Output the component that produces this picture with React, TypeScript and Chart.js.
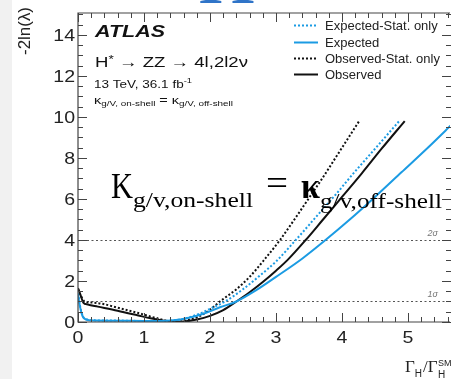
import { useEffect, useRef } from "react";
import { Chart, registerables } from "chart.js";
Chart.register(...registerables);

const BLUE = "#1b9be3";
const BLACK = "#111111";

// Expected-Stat. only (blue dotted)
const expStatX = [0, 0.03, 0.07, 0.12, 0.25, 0.6, 1.0, 1.25, 1.45, 1.65, 1.85, 2.05, 2.23, 2.5, 2.75, 3.0, 3.3, 3.6, 3.9, 4.2, 4.5, 4.88];
const expStatY = [1.4, 0.8, 0.3, 0.14, 0.08, 0.07, 0.05, 0.05, 0.08, 0.2, 0.42, 0.72, 1.0, 1.6, 2.25, 2.95, 4.0, 5.1, 6.2, 7.35, 8.45, 9.85];
// Expected (blue solid)
const expX = [0, 0.03, 0.07, 0.12, 0.25, 0.6, 1.0, 1.25, 1.45, 1.65, 1.9, 2.15, 2.4, 2.7, 3.0, 3.4, 3.75, 4.1, 4.5, 4.9, 5.3, 5.7];
const expY = [1.35, 0.75, 0.28, 0.12, 0.07, 0.06, 0.05, 0.05, 0.08, 0.18, 0.4, 0.72, 1.0, 1.55, 2.2, 3.1, 4.0, 4.95, 6.1, 7.3, 8.5, 9.75];
// Observed-Stat. only (black dotted)
const obsStatX = [0, 0.04, 0.1, 0.2, 0.35, 0.6, 0.9, 1.15, 1.35, 1.5, 1.65, 1.85, 2.0, 2.15, 2.4, 2.6, 2.8, 3.06, 3.3, 3.5, 3.7, 3.9, 4.1, 4.27];
const obsStatY = [1.6, 1.3, 1.0, 0.95, 0.9, 0.7, 0.45, 0.22, 0.06, 0.01, 0.08, 0.3, 0.6, 1.0, 1.6, 2.2, 2.95, 4.0, 5.1, 6.05, 7.0, 8.0, 9.0, 9.85];
// Observed (black solid)
const obsX = [0, 0.04, 0.08, 0.15, 0.3, 0.6, 0.9, 1.1, 1.3, 1.45, 1.6, 1.8, 2.0, 2.2, 2.4, 2.6, 2.8, 3.0, 3.18, 3.45, 3.7, 4.0, 4.3, 4.6, 4.95];
const obsY = [1.65, 1.3, 0.95, 0.85, 0.75, 0.55, 0.33, 0.18, 0.06, 0.01, 0.02, 0.12, 0.3, 0.58, 1.0, 1.45, 1.95, 2.5, 3.04, 4.0, 4.95, 6.1, 7.25, 8.45, 9.8];

const seriesLabels = ["Expected-Stat. only", "Expected", "Observed-Stat. only", "Observed"];
const sigmaLevels = [1, 4];
const sigmaLabels = ["1σ", "2σ"];
const xTickValues = [0, 1, 2, 3, 4, 5];
const yTickValues = [0, 2, 4, 6, 8, 10, 12, 14];

const SANS = "'Liberation Sans', Arial, Helvetica, sans-serif";
const SERIF = "'Liberation Serif', 'Times New Roman', serif";

function pts(xs: number[], ys: number[]) {
  return xs.map((x, i) => ({ x, y: ys[i] }));
}

type Run = { t: string; f: string; dy?: number; dx?: number; c?: string };

function drawRuns(
  ctx: CanvasRenderingContext2D,
  items: Run[],
  x: number,
  y: number,
  targetW?: number,
  align: "left" | "right" | "center" = "left",
  color = "#111"
) {
  let total = 0;
  for (const r of items) {
    ctx.font = r.f;
    total += ctx.measureText(r.t).width + (r.dx || 0);
  }
  const sx = targetW ? targetW / total : 1;
  const w = total * sx;
  let x0 = x;
  if (align === "right") x0 = x - w;
  if (align === "center") x0 = x - w / 2;
  ctx.save();
  ctx.translate(x0, y);
  ctx.scale(sx, 1);
  ctx.textAlign = "left";
  ctx.textBaseline = "alphabetic";
  let cx = 0;
  for (const r of items) {
    ctx.font = r.f;
    ctx.fillStyle = r.c || color;
    ctx.fillText(r.t, cx + (r.dx || 0), r.dy || 0);
    cx += ctx.measureText(r.t).width + (r.dx || 0);
  }
  ctx.restore();
}

const decor = {
  id: "decor",
  beforeDraw(chart: any) {
    const ctx = chart.ctx as CanvasRenderingContext2D;
    ctx.save();
    ctx.fillStyle = "#ffffff";
    ctx.fillRect(0, 0, chart.width, chart.height);
    ctx.fillStyle = "#f1f1f1";
    ctx.fillRect(0, 0, 12, chart.height);
    // clipped slide title remnant at the top
    ctx.font = `80px ${SERIF}`;
    ctx.fillStyle = "#2f74c8";
    ctx.textBaseline = "alphabetic";
    ctx.fillText("H", 198, 3);
    ctx.restore();
  },
  beforeDatasetsDraw(chart: any) {
    const ctx = chart.ctx as CanvasRenderingContext2D;
    const { left, right } = chart.chartArea;
    const ys = chart.scales.y;
    ctx.save();
    ctx.strokeStyle = "#555";
    ctx.lineWidth = 1.1;
    ctx.setLineDash([2, 2.5]);
    sigmaLevels.forEach((lv) => {
      const py = Math.round(ys.getPixelForValue(lv)) + 0.5;
      ctx.beginPath();
      ctx.moveTo(left, py);
      ctx.lineTo(right, py);
      ctx.stroke();
    });
    ctx.restore();
  },
  afterDatasetsDraw(chart: any) {
    const ctx = chart.ctx as CanvasRenderingContext2D;
    const { left, right, top, bottom } = chart.chartArea;
    const xs = chart.scales.x;
    const ys = chart.scales.y;
    ctx.save();
    // frame (left, bottom, top)
    ctx.strokeStyle = "#444";
    ctx.lineWidth = 1.2;
    ctx.beginPath();
    ctx.moveTo(right, top);
    ctx.lineTo(left, top);
    ctx.lineTo(left, bottom);
    ctx.lineTo(right, bottom);
    ctx.stroke();
    // x ticks
    ctx.lineWidth = 1;
    for (let i = 0; i <= 30; i++) {
      const v = i * 0.2;
      if (v > xs.max + 1e-9) break;
      const px = Math.round(xs.getPixelForValue(v)) + 0.5;
      const len = i % 5 === 0 ? 9 : 5;
      ctx.beginPath();
      ctx.moveTo(px, bottom);
      ctx.lineTo(px, bottom - len);
      ctx.moveTo(px, top);
      ctx.lineTo(px, top + len);
      ctx.stroke();
    }
    // y ticks
    for (let i = 0; i <= 40; i++) {
      const v = i * 0.5;
      if (v > ys.max + 1e-9) break;
      const py = Math.round(ys.getPixelForValue(v)) + 0.5;
      const len = i % 4 === 0 ? 9 : 5;
      ctx.beginPath();
      ctx.moveTo(left, py);
      ctx.lineTo(left + len, py);
      ctx.moveTo(right + 1, py);
      ctx.lineTo(right + 1 - len, py);
      ctx.stroke();
    }
    // tick labels
    const tickFont = `17px ${SANS}`;
    yTickValues.forEach((v) => {
      const py = ys.getPixelForValue(v);
      ctx.font = tickFont;
      const w = ctx.measureText(String(v)).width * 1.15;
      drawRuns(ctx, [{ t: String(v), f: tickFont }], 75, py + 6, w, "right", "#222");
    });
    xTickValues.forEach((v) => {
      const px = xs.getPixelForValue(v);
      ctx.font = tickFont;
      const w = ctx.measureText(String(v)).width * 1.15;
      drawRuns(ctx, [{ t: String(v), f: tickFont }], px, 343, w, "center", "#222");
    });
    // sigma labels
    sigmaLevels.forEach((lv, i) => {
      const py = ys.getPixelForValue(lv);
      drawRuns(ctx, [{ t: sigmaLabels[i], f: `italic 9px ${SANS}` }], 438, py - 4, undefined, "right", "#777");
    });
    // y title
    ctx.save();
    ctx.translate(30, 55);
    ctx.rotate(-Math.PI / 2);
    drawRuns(ctx, [{ t: "-2ln(λ)", f: `17px ${SANS}` }], 0, 0, 48, "left", "#222");
    ctx.restore();
    // x title
    drawRuns(
      ctx,
      [
        { t: "Γ", f: `17px ${SERIF}` },
        { t: "H", f: `10px ${SANS}`, dy: 5 },
        { t: "/", f: `17px ${SERIF}`, dx: 1 },
        { t: "Γ", f: `17px ${SERIF}` },
      ],
      405,
      372,
      undefined,
      "left",
      "#222"
    );
    drawRuns(ctx, [{ t: "H", f: `10px ${SANS}` }], 438, 378, undefined, "left", "#222");
    drawRuns(ctx, [{ t: "SM", f: `9px ${SANS}` }], 438, 366, undefined, "left", "#222");

    // ATLAS label texts
    drawRuns(ctx, [{ t: "ATLAS", f: `italic bold 17px ${SANS}` }], 95, 37, 70);
    drawRuns(
      ctx,
      [
        { t: "H", f: `15px ${SANS}` },
        { t: "*", f: `11px ${SANS}`, dy: -4 },
        { t: " → ZZ → 4l,2l2ν", f: `15px ${SANS}` },
      ],
      95,
      67,
      153
    );
    drawRuns(
      ctx,
      [
        { t: "13 TeV, 36.1 fb", f: `11.5px ${SANS}` },
        { t: "-1", f: `8px ${SANS}`, dy: -5 },
      ],
      94,
      88,
      98
    );
    drawRuns(
      ctx,
      [
        { t: "κ", f: `11px ${SANS}` },
        { t: "g/V, on-shell", f: `7.5px ${SANS}`, dy: 2 },
        { t: " = κ", f: `11px ${SANS}` },
        { t: "g/V, off-shell", f: `7.5px ${SANS}`, dy: 2 },
      ],
      94,
      104,
      139
    );

    // legend
    const rows = [25, 42, 58, 74];
    chart.data.datasets.forEach((ds: any, i: number) => {
      const y = rows[i];
      ctx.save();
      ctx.strokeStyle = ds.borderColor;
      ctx.lineWidth = 2;
      ctx.setLineDash(ds.borderDash || []);
      ctx.beginPath();
      ctx.moveTo(294, y + 0.5);
      ctx.lineTo(318, y + 0.5);
      ctx.stroke();
      ctx.restore();
      drawRuns(ctx, [{ t: ds.label, f: `13px ${SANS}` }], 325, y + 5, undefined, "left", "#222");
    });

    // overlaid annotation
    drawRuns(ctx, [{ t: "K", f: `35px ${SERIF}` }], 111, 198, 22, "left", "#000");
    drawRuns(ctx, [{ t: "g/v,on-shell", f: `22px ${SERIF}` }], 133, 207, 120, "left", "#000");
    drawRuns(ctx, [{ t: "=", f: `35px ${SERIF}` }], 266, 195, 22, "left", "#000");
    drawRuns(ctx, [{ t: "κ", f: `bold 35px ${SERIF}` }], 301, 198, 19, "left", "#000");
    drawRuns(ctx, [{ t: "g/v,off-shell", f: `22px ${SERIF}` }], 320, 208, 122, "left", "#000");
    ctx.restore();
  },
};

export default function App() {
  const ref = useRef<HTMLCanvasElement | null>(null);
  useEffect(() => {
    if (!ref.current) return;
    const common = { showLine: true, pointRadius: 0, borderWidth: 2, cubicInterpolationMode: "monotone" as const, fill: false };
    const chart = new Chart(ref.current, {
      type: "scatter",
      data: {
        datasets: [
          { ...common, label: seriesLabels[0], data: pts(expStatX, expStatY), borderColor: BLUE, borderDash: [2, 2] },
          { ...common, label: seriesLabels[1], data: pts(expX, expY), borderColor: BLUE },
          { ...common, label: seriesLabels[2], data: pts(obsStatX, obsStatY), borderColor: BLACK, borderDash: [2, 2] },
          { ...common, label: seriesLabels[3], data: pts(obsX, obsY), borderColor: BLACK },
        ],
      },
      options: {
        responsive: false,
        animation: false,
        devicePixelRatio: 1,
        layout: { padding: { left: 78, top: 13, right: 1, bottom: 57 } },
        plugins: { legend: { display: false }, tooltip: { enabled: false } },
        scales: {
          x: { type: "linear", min: 0, max: 5.636, display: false },
          y: { type: "linear", min: 0, max: 15.07, display: false },
        },
      },
      plugins: [decor],
    });
    return () => chart.destroy();
  }, []);
  return (
    <canvas
      ref={ref}
      width={451}
      height={379}
      style={{ position: "fixed", left: 0, top: 0, display: "block" }}
    />
  );
}
